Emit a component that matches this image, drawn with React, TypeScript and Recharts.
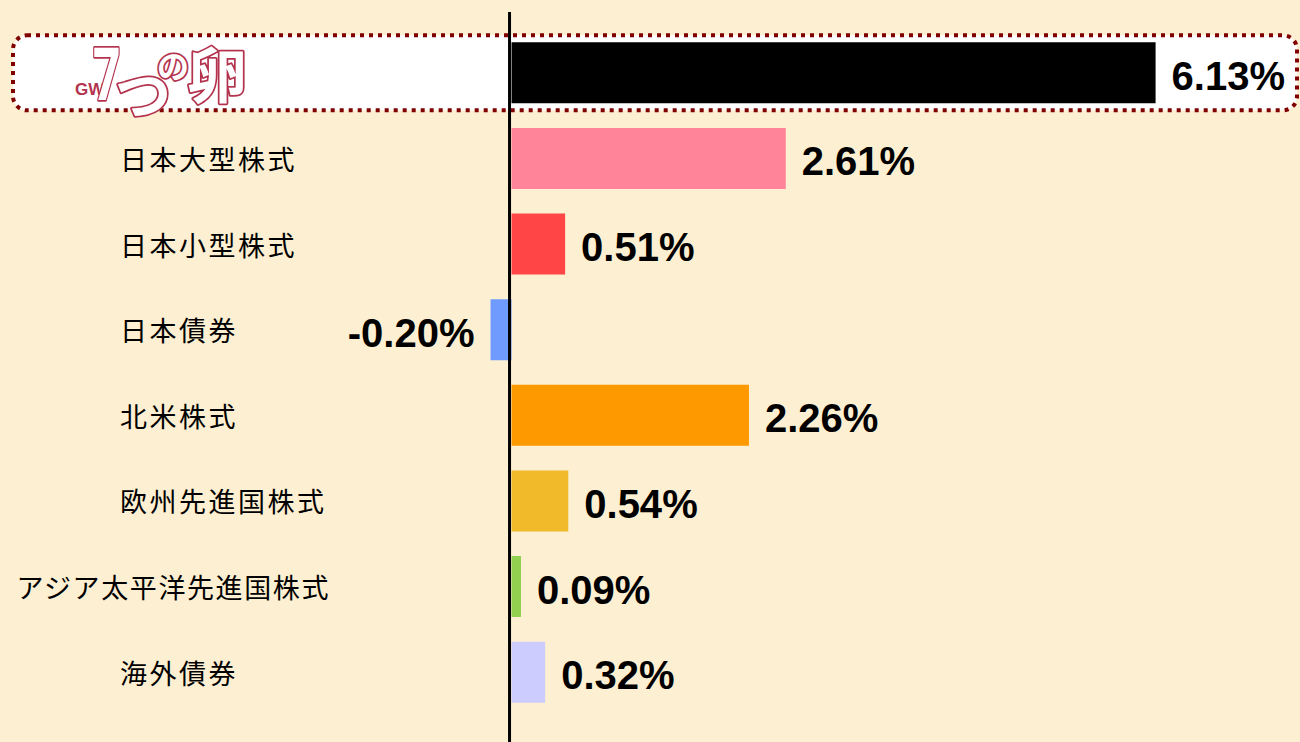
import { Bar, BarChart, Cell, LabelList, ReferenceLine, XAxis, YAxis } from 'recharts'

const categories = ['GW7つの卵', '日本大型株式', '日本小型株式', '日本債券', '北米株式', '欧州先進国株式', 'アジア太平洋先進国株式', '海外債券']
const returns = [6.13, 2.61, 0.51, -0.2, 2.26, 0.54, 0.09, 0.32]
const barColors = ['#000000', '#FF8399', '#FF4545', '#6F9BFF', '#FF9900', '#F0BA2A', '#92D050', '#CCCCFF']

const data = categories.map((name, i) => ({ name, value: returns[i], color: barColors[i] }))

const BG = '#FDEFD1'
const LOGO = '#B3334E'
const labelFont = '"Noto Sans CJK JP", "Noto Sans", sans-serif'

// white dotted box behind the first (highlighted) row
function RowBox(props: any) {
  const { y, height, index } = props
  if (index !== 0) return <g />
  const cy = y + height / 2
  return <rect x={13} y={cy - 37.5} width={1284} height={75} rx={14} ry={14} fill="#fff" stroke="#800000" strokeWidth={4} strokeDasharray="4 5" />
}

function CategoryTick(props: any) {
  const { y, payload, index } = props
  const name: string = payload.value
  if (index === 0) {
    return (
      <g>
        <text x={75} y={y + 22} fontFamily="Liberation Sans, Arial, sans-serif" fontWeight="bold" fontSize={17} fill={LOGO}>GW</text>
        <g fontFamily={labelFont} fontWeight="bold" fill="#fff" stroke={LOGO} strokeWidth={3.5} paintOrder="stroke" strokeLinejoin="round">
          <text transform={`translate(93 ${y + 27}) scale(0.64 1)`} fontSize={74} fontFamily="Noto Sans, sans-serif">7</text>
          <text x={115} y={y + 42} fontSize={56}>つ</text>
          <text x={157} y={y + 5} fontSize={32}>の</text>
          <text x={187} y={y + 25} fontSize={60}>卵</text>
        </g>
      </g>
    )
  }
  const long = name.length > 8
  return (
    <text
      x={long ? 330 : 120}
      y={y}
      textAnchor={long ? 'end' : 'start'}
      dominantBaseline="central"
      fontFamily={labelFont}
      fontSize={27}
      letterSpacing={long ? 1.6 : 2.5}
      fill="#000"
    >
      {name}
    </text>
  )
}

function ValueLabel(props: any) {
  const { x, y, width, height, value } = props
  const left = Math.min(x, x + width)
  const right = Math.max(x, x + width)
  const neg = value < 0
  return (
    <text
      x={neg ? left - 16 : right + 16}
      y={y + height / 2 + 17}
      textAnchor={neg ? 'end' : 'start'}
      fontFamily="Liberation Sans, Arial, sans-serif"
      fontWeight="bold"
      fontSize={40}
      fill="#000"
    >
      {value.toFixed(2)}%
    </text>
  )
}

function ZeroLine(props: any) {
  const { x1, y1, y2 } = props
  const top = Math.min(y1, y2)
  const bottom = Math.max(y1, y2)
  return <line x1={x1 - 2} x2={x1 - 2} y1={top - 18} y2={bottom + 28} stroke="#000" strokeWidth={3} />
}

export default function App() {
  return (
    <div style={{ position: 'fixed', top: 0, left: 0, width: 1300, height: 742, background: BG, overflow: 'hidden' }}>
      <BarChart
        width={1300}
        height={742}
        data={data}
        layout="vertical"
        margin={{ top: 30, right: 53, bottom: 27, left: 0 }}
        barCategoryGap="14.4%"
      >
        <YAxis type="category" dataKey="name" width={459} axisLine={false} tickLine={false} tick={<CategoryTick />} interval={0} />
        <XAxis type="number" domain={[-0.5, 7]} hide />
        <Bar dataKey="value" isAnimationActive={false} background={<RowBox />}>
          {data.map((d) => (
            <Cell key={d.name} fill={d.color} />
          ))}
          <LabelList dataKey="value" content={<ValueLabel />} />
        </Bar>
        <ReferenceLine x={0} ifOverflow="visible" shape={<ZeroLine />} />
      </BarChart>
    </div>
  )
}
